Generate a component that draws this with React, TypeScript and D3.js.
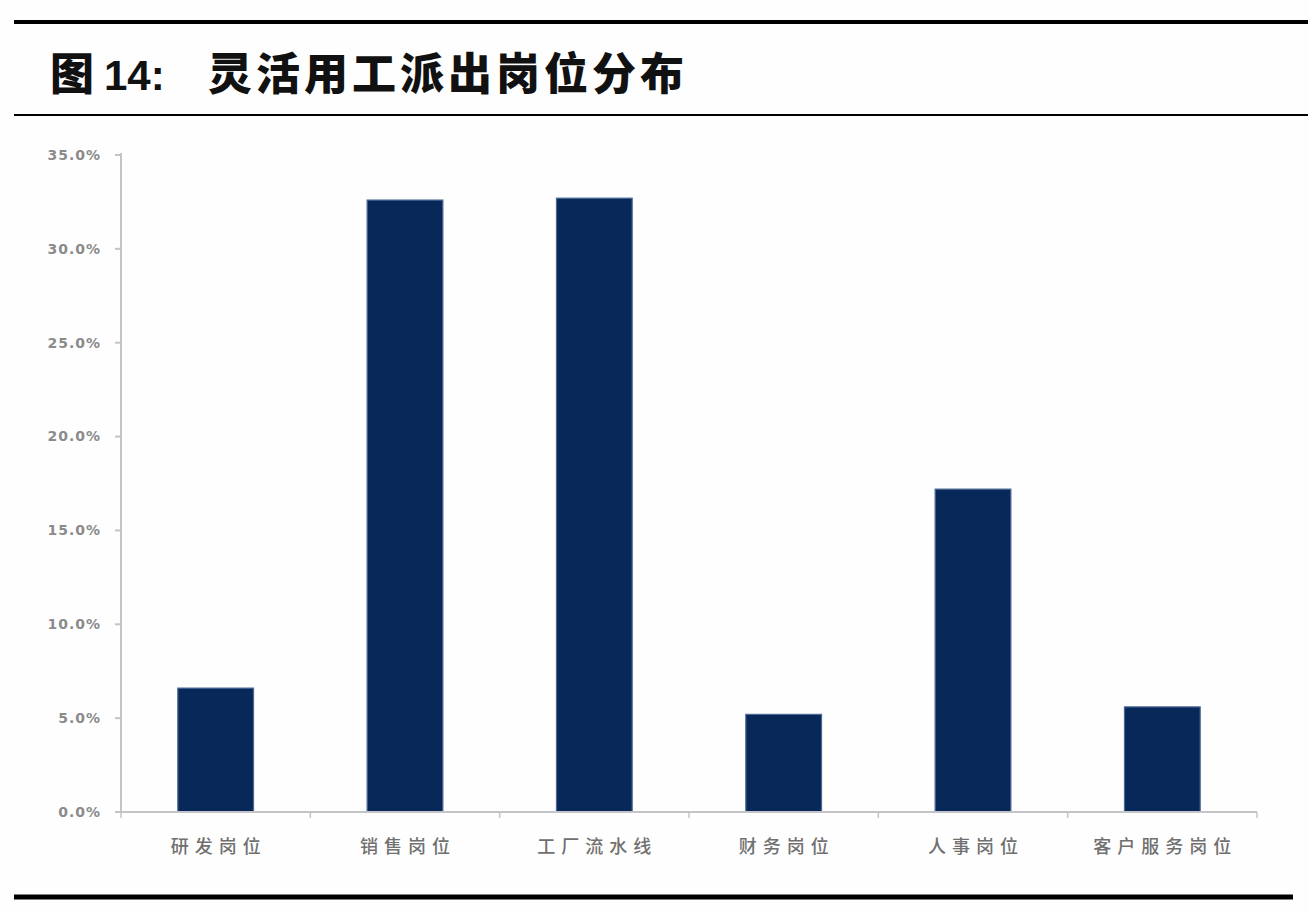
import React from "react"
import * as d3 from "d3"

const categories = ["研发岗位", "销售岗位", "工厂流水线", "财务岗位", "人事岗位", "客户服务岗位"]
const shares = [6.6, 32.6, 32.7, 5.2, 17.2, 5.6]
const yTicks = [0, 5, 10, 15, 20, 25, 30, 35]
const titleNo = "图 14："
const titleText = "灵活用工派出岗位分布"

const size = { width: 1308, height: 912 }
const plot = { left: 121, right: 1257, top: 155, bottom: 812 }

export default function App() {
  const x = d3
    .scaleBand<string>()
    .domain(categories)
    .range([plot.left, plot.right])
    .paddingInner(0.6)
    .paddingOuter(0.3)

  const y = d3.scaleLinear().domain([0, 35]).range([plot.bottom, plot.top])

  const step = (plot.right - plot.left) / categories.length
  const boundaries = d3.range(categories.length + 1).map(i => plot.left + i * step)

  const axisColor = "#c4c4c8"
  const labelColor = "#777"

  return (
    <div style={{ position: "absolute", left: 0, top: 0, background: "white" }}>
      <svg width={size.width} height={size.height} style={{ display: "block" }}>
        <rect width={size.width} height={size.height} fill="#fefefe" />

        {/* header rules and title */}
        <line x1={14} x2={size.width} y1={22} y2={22} stroke="#000" strokeWidth={4} />
        <text
          x={50}
          y={90}
          fontFamily="'Noto Sans CJK SC', sans-serif"
          fontWeight={900}
          fontSize={44}
          fill="#111"
        >
          <tspan>{titleNo.slice(0, 1)}</tspan>
          <tspan x={104} fontFamily="'Liberation Sans', Arial, sans-serif" fontWeight={700} fontSize={42}>
            {"14:"}
          </tspan>
          <tspan x={208} letterSpacing={4}>
            {titleText}
          </tspan>
        </text>
        <line x1={14} x2={size.width} y1={115} y2={115} stroke="#000" strokeWidth={2} />

        {/* y axis */}
        <line x1={plot.left} x2={plot.left} y1={plot.top - 2} y2={plot.bottom} stroke={axisColor} strokeWidth={2} />
        {yTicks.map(t => (
          <g key={t} transform={`translate(0 ${y(t)})`}>
            <line x1={plot.left - 6} x2={plot.left} stroke={axisColor} strokeWidth={2} />
            <text
              x={101}
              dy="0.35em"
              textAnchor="end"
              fontFamily="'DejaVu Sans', sans-serif"
              fontSize={14}
              fontWeight={700}
              letterSpacing={1}
              fill={labelColor}
              opacity={0.85}
            >
              {`${t.toFixed(1)}%`}
            </text>
          </g>
        ))}

        {/* bars */}
        {categories.map((c, i) => (
          <rect
            key={c}
            x={x(c)}
            y={y(shares[i])}
            width={x.bandwidth()}
            height={y(0) - y(shares[i])}
            fill="#08285a"
            stroke="#4a6a96"
            strokeWidth={1.2}
          />
        ))}

        {/* x axis */}
        <line x1={plot.left} x2={plot.right} y1={plot.bottom} y2={plot.bottom} stroke={axisColor} strokeWidth={2} />
        {boundaries.map((b, i) => (
          <line key={i} x1={b} x2={b} y1={plot.bottom} y2={plot.bottom + 6} stroke={axisColor} strokeWidth={1.5} />
        ))}
        {categories.map(c => (
          <text
            key={c}
            x={(x(c) ?? 0) + x.bandwidth() / 2 + 3}
            y={853}
            textAnchor="middle"
            fontFamily="'Noto Sans CJK SC', sans-serif"
            fontSize={18}
            fontWeight={500}
            letterSpacing={6}
            fill="#707070"
          >
            {c}
          </text>
        ))}

        {/* footer rule */}
        <line x1={14} x2={1293} y1={897} y2={897} stroke="#000" strokeWidth={5} />
      </svg>
    </div>
  )
}
